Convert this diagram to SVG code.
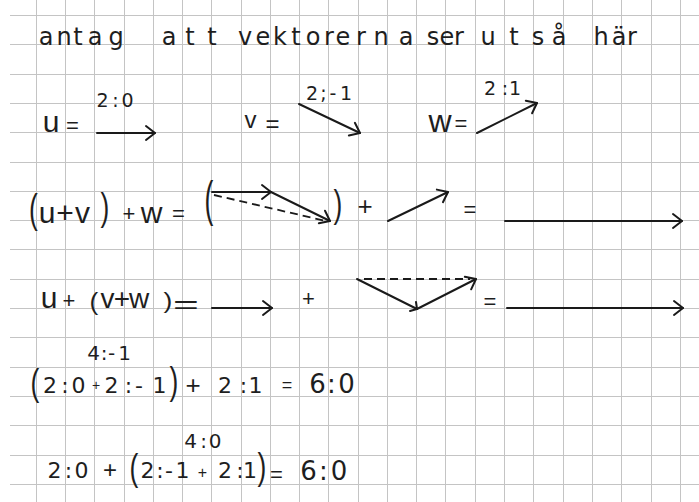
<svg xmlns="http://www.w3.org/2000/svg" width="699" height="502" viewBox="0 0 699 502">
<defs>
<style>
.grid{stroke:#c4c4c4;stroke-width:1;fill:none}
.t{font-family:"Liberation Sans",Arial,sans-serif;fill:#1e1e1e;text-anchor:middle}
.n{font-family:"DejaVu Sans","Liberation Sans",sans-serif;fill:#1e1e1e;text-anchor:middle}
.v{stroke:#1a1a1a;stroke-width:2;fill:none;stroke-linecap:round;stroke-linejoin:round}
.d{stroke:#1a1a1a;stroke-width:1.8;fill:none;stroke-dasharray:8 5}
.p{font-size:22px}
</style>
<marker id="ah" viewBox="-12 -10 14 20" refX="0" refY="0" markerWidth="14" markerHeight="20" markerUnits="userSpaceOnUse" orient="auto" overflow="visible">
<path d="M-9,-7 L0,0 L-9,7" fill="none" stroke="#1a1a1a" stroke-width="2" stroke-linecap="round" stroke-linejoin="round"/>
</marker>
</defs>
<rect width="699" height="502" fill="#ffffff"/>
<g id="grid">
<path class="grid" d="M36.5 0V502M65.5 0V502M94.5 0V502M124.5 0V502M153.5 0V502M182.5 0V502M211.5 0V502M241.5 0V502M270.5 0V502M299.5 0V502M328.5 0V502M358.5 0V502M387.5 0V502M416.5 0V502M445.5 0V502M475.5 0V502M504.5 0V502M533.5 0V502M563.5 0V502M592.5 0V502M621.5 0V502M651.5 0V502M680.5 0V502"/>
<path class="grid" d="M10 15.5H699M10 44.5H699M10 74.5H699M10 103.5H699M10 132.5H699M10 162.5H699M10 191.5H699M10 220.5H699M10 249.5H699M10 279.5H699M10 308.5H699M10 337.5H699M10 367.5H699M10 396.5H699M10 425.5H699M10 455.5H699M10 484.5H699"/>
</g>
<g id="title" class="n" font-size="24">
<text x="46 64 78 95 116" y="45">antag</text>
<text x="169 190 212" y="45">att</text>
<text x="245 263 280 296 313 329 343 361 381 406" y="45">vektorerna</text>
<text x="433 447 459" y="45">ser</text>
<text x="488 514" y="45">ut</text>
<text x="538 559" y="45">så</text>
<text x="601 619 632" y="45">här</text>
</g>
<g id="row-definitions">
<text class="t" x="51" y="132" font-size="30">u</text>
<text class="t" x="72.5" y="133" font-size="22">=</text>
<text class="n" x="102.5 115.5 127.5" y="107" font-size="19">2:0</text>
<text class="t" x="250.5" y="128" font-size="24">v</text>
<text class="t" x="272.5" y="132" font-size="24">=</text>
<text class="n" x="312 323.5 333 346" y="100" font-size="19">2;-1</text>
<text class="t" x="440" y="132" font-size="32">w</text>
<text class="t" x="461" y="131" font-size="22">=</text>
<text class="n" x="490 505 515" y="95" font-size="19">2:1</text>
</g>
<g id="row-uv-w" class="t">
<text class="p" transform="translate(33.5,223.1) scale(1.2,1.884)">(</text>
<text x="47 65 82.5" y="223" font-size="30">u+v</text>
<text class="p" transform="translate(105,219.8) scale(1.2,1.739)">)</text>
<text x="129" y="221" font-size="22">+</text>
<text x="151.5" y="223" font-size="30">w</text>
<text x="178.5" y="220.5" font-size="22">=</text>
<text class="p" transform="translate(209,216.3) scale(1.2,2.271)">(</text>
<text class="p" transform="translate(338,216.6) scale(1.2,1.787)">)</text>
<text x="365" y="214.5" font-size="26">+</text>
<text x="470" y="217" font-size="22">=</text>
</g>
<g id="row-u-vw" class="t">
<text x="49" y="308" font-size="30">u</text>
<text x="69" y="307.5" font-size="22">+</text>
<text class="p" transform="translate(94,309.8) scale(1.2,1.111)">(</text>
<text x="107.5 122 139" y="308" font-size="28">v+w</text>
<text class="p" transform="translate(168,308.2) scale(1.2,1.014)">)</text>
<text font-size="26" transform="translate(186,313) scale(1.7,1)">=</text>
<text x="308.5" y="306" font-size="22">+</text>
<text x="490" y="308.5" font-size="22">=</text>
</g>
<g id="row-numeric-1">
<text class="n" x="93.5 104 111.5 124.5" y="360" font-size="20">4:-1</text>
<text class="t p" transform="translate(35,395.1) scale(1.2,1.691)">(</text>
<text class="n" x="50 65 78.5" y="393" font-size="22">2:0</text>
<text class="t" x="96" y="390" font-size="14">+</text>
<text class="n" x="111.5 128.5 139 159.5" y="393" font-size="22">2:-1</text>
<text class="t p" transform="translate(174,393.6) scale(1.2,1.787)">)</text>
<text class="t" x="193" y="393.5" font-size="26">+</text>
<text class="n" x="225 243.5 255.5" y="393" font-size="22">2:1</text>
<text class="t" x="287" y="391" font-size="18">=</text>
<text class="n" x="317.5 331.5 346.5" y="393" font-size="26">6:0</text>
</g>
<g id="row-numeric-2">
<text class="n" x="190.5 203.5 215" y="448" font-size="20">4:0</text>
<text class="n" x="54.5 68.5 81.5" y="478" font-size="22">2:0</text>
<text class="t" x="110" y="477.8" font-size="24">+</text>
<text class="t p" transform="translate(134,480.1) scale(1.2,1.691)">(</text>
<text class="n" x="147.5 160 169 182.5" y="478" font-size="22">2:-1</text>
<text class="t" x="202.5" y="477.9" font-size="16">+</text>
<text class="n" x="225 240 250" y="478" font-size="22">2:1</text>
<text class="t p" transform="translate(262,479.1) scale(1.2,1.691)">)</text>
<text class="t" x="276.5" y="481.6" font-size="22">=</text>
<text class="n" x="308.5 323.5 339" y="480" font-size="26">6:0</text>
</g>
<g id="connectors">
<path class="v" d="M97 133H155" marker-end="url(#ah)"/>
<path class="v" d="M299 104L360 133" marker-end="url(#ah)"/>
<path class="v" d="M477 133L537 103" marker-end="url(#ah)"/>
<path class="d" d="M214 195L326 221"/>
<path class="v" d="M212 192H271" marker-end="url(#ah)"/>
<path class="v" d="M271 192L330 221" marker-end="url(#ah)"/>
<path class="v" d="M388 221L448 192" marker-end="url(#ah)"/>
<path class="v" d="M505 221H682" marker-end="url(#ah)"/>
<path class="v" d="M212 308H272" marker-end="url(#ah)"/>
<path class="d" d="M364 279H470"/>
<path class="v" d="M357 279L417 309"/>
<path class="v" d="M416 302L417 309L410 311"/>
<path class="v" d="M417 309L476 279" marker-end="url(#ah)"/>
<path class="v" d="M507 308H683" marker-end="url(#ah)"/>
</g>
</svg>
